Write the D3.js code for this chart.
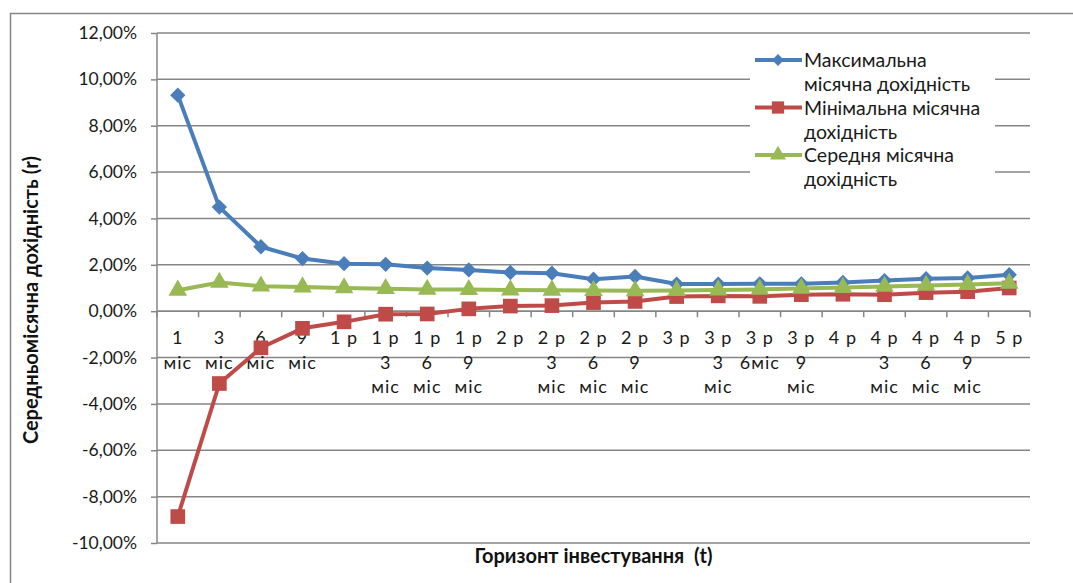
<!DOCTYPE html>
<html>
<head>
<meta charset="utf-8">
<script src="https://cdn.jsdelivr.net/npm/d3@7"></script>
<style>
  html, body { margin: 0; padding: 0; background: #fff; }
  svg { display: block; font-family: Lato, "Open Sans", sans-serif; }
</style>
</head>
<body>
<svg id="chart" width="1073" height="583"></svg>
<script>
// ---- data ----
const categories = [
  ["1", "міс"], ["3", "міс"], ["6", "міс"], ["9", "міс"],
  ["1 р"], ["1 р", "3", "міс"], ["1 р", "6", "міс"], ["1 р", "9", "міс"],
  ["2 р"], ["2 р", "3", "міс"], ["2 р", "6", "міс"], ["2 р", "9", "міс"],
  ["3 р"], ["3 р", "3", "міс"], ["3 р", "6міс"], ["3 р", "9", "міс"],
  ["4 р"], ["4 р", "3", "міс"], ["4 р", "6", "міс"], ["4 р", "9", "міс"],
  ["5 р"]
];
const maxValues = [9.32, 4.49, 2.78, 2.27, 2.05, 2.02, 1.86, 1.78, 1.67, 1.64, 1.38, 1.50, 1.17, 1.17, 1.18, 1.18, 1.24, 1.32, 1.40, 1.43, 1.57];
const minValues = [-8.86, -3.12, -1.58, -0.74, -0.46, -0.13, -0.12, 0.10, 0.22, 0.24, 0.37, 0.42, 0.63, 0.66, 0.64, 0.71, 0.73, 0.71, 0.80, 0.84, 1.00];
const avgValues = [0.90, 1.24, 1.08, 1.04, 1.00, 0.97, 0.94, 0.93, 0.91, 0.90, 0.89, 0.88, 0.89, 0.91, 0.94, 0.98, 1.02, 1.07, 1.11, 1.15, 1.20];
const yTicks = [-10, -8, -6, -4, -2, 0, 2, 4, 6, 8, 10, 12];
const seriesNames = [
  ["Максимальна", "місячна дохідність"],
  ["Мінімальна місячна", "дохідність"],
  ["Середня місячна", "дохідність"]
];
const yTitle = "Середньомісячна дохідність (r)";
const xTitle = "Горизонт інвестування  (t)";

// ---- setup ----
const svg = d3.select("#chart");
const pLeft = 157, pRight = 1030, pTop = 33, pBottom = 543;
const gridColor = "#868686";
const textColor = "#1a1a1a";

const locale = d3.formatLocale({decimal: ",", thousands: " ", grouping: [3], currency: ["", ""], minus: "-", percent: "%"});
const fmt = locale.format(".2%");

const x = d3.scaleBand().domain(d3.range(categories.length)).range([pLeft, pRight]);
const y = d3.scaleLinear().domain([-10, 12]).range([pBottom, pTop]);

// outer frame
svg.append("rect").attr("x", 10.5).attr("y", 13.5).attr("width", 1100).attr("height", 600)
  .attr("fill", "#fff").attr("stroke", gridColor).attr("stroke-width", 1.5);

// y axis
const yAxis = d3.axisLeft(y).tickValues(yTicks).tickSize(6).tickPadding(14).tickFormat(d => fmt(d / 100));
const gy = svg.append("g").attr("transform", `translate(${pLeft},0)`).call(yAxis);
gy.select(".domain").attr("stroke", gridColor).attr("stroke-width", 1.5).attr("d", `M0,${pTop}V${pBottom}`);
gy.selectAll(".tick line").attr("stroke", gridColor).attr("stroke-width", 1.5);
gy.selectAll(".tick text").attr("font-size", 17.5).attr("fill", textColor).attr("font-family", "Lato, sans-serif");

// gridlines
svg.append("g").selectAll("line").data(yTicks).join("line")
  .attr("x1", pLeft).attr("x2", pRight)
  .attr("y1", d => y(d)).attr("y2", d => y(d))
  .attr("stroke", gridColor).attr("stroke-width", 1.5);

// x axis at 0
const y0 = y(0);
const gx = svg.append("g").attr("transform", `translate(0,${y0})`);
gx.append("line").attr("x1", pLeft).attr("x2", pRight).attr("stroke", gridColor).attr("stroke-width", 1.5);
const bounds = d3.range(categories.length + 1).map(i => pLeft + i * x.step());
gx.selectAll("line.tk").data(bounds).join("line").attr("class", "tk")
  .attr("x1", d => d).attr("x2", d => d).attr("y1", 0).attr("y2", 6)
  .attr("stroke", gridColor).attr("stroke-width", 1.5);
const lbl = gx.selectAll("text.cat").data(categories).join("text").attr("class", "cat")
  .attr("text-anchor", "middle").attr("font-size", 18).attr("fill", textColor)
  .attr("letter-spacing", 1);
lbl.selectAll("tspan").data((d, i) => d.map(t => ({t, i}))).join("tspan")
  .attr("x", d => x(d.i) + x.bandwidth() / 2)
  .attr("y", (d, j) => 33 + j * 24.5)
  .text(d => d.t);

// series
const colors = ["#4A7EBB", "#BE4B48", "#98B954"];
const seriesVals = [maxValues, minValues, avgValues];
const line = d3.line().x((d, i) => x(i) + x.bandwidth() / 2).y(d => y(d));
const symbolsFill = [
  d3.symbol().type(d3.symbolDiamond2).size(150),
  d3.symbol().type(d3.symbolSquare).size(215),
  d3.symbol().type(d3.symbolTriangle).size(150)
];
seriesVals.forEach((vals, s) => {
  const g = svg.append("g");
  g.append("path").datum(vals).attr("d", line).attr("fill", "none")
    .attr("stroke", colors[s]).attr("stroke-width", 4).attr("stroke-linejoin", "round");
  g.selectAll("path.m").data(vals).join("path").attr("class", "m")
    .attr("transform", (d, i) => `translate(${x(i) + x.bandwidth() / 2},${y(d)})`)
    .attr("d", symbolsFill[s]()).attr("fill", colors[s]);
});

// legend
const legendSymbols = [
  d3.symbol().type(d3.symbolDiamond2).size(90),
  d3.symbol().type(d3.symbolSquare).size(150),
  d3.symbol().type(d3.symbolTriangle).size(110)
];
const lg = svg.append("g");
lg.append("rect").attr("x", 750).attr("y", 40).attr("width", 245).attr("height", 155).attr("fill", "#fff");
seriesNames.forEach((lines, s) => {
  const cy = 60 + s * 47.5;
  lg.append("line").attr("x1", 755).attr("x2", 802).attr("y1", cy).attr("y2", cy)
    .attr("stroke", colors[s]).attr("stroke-width", 4);
  lg.append("path").attr("transform", `translate(778,${cy})`).attr("d", legendSymbols[s]()).attr("fill", colors[s]);
  const t = lg.append("text").attr("font-size", 19.5).attr("fill", textColor);
  lines.forEach((l, j) => t.append("tspan").attr("x", 804).attr("y", cy + 7 + j * 24).text(l));
});

// axis titles
svg.append("text").attr("transform", `translate(38,${(pTop + pBottom) / 2 + 12}) rotate(-90)`)
  .attr("text-anchor", "middle").attr("font-size", 20).attr("font-weight", "bold").attr("fill", "#111")
  .text(yTitle);
svg.append("text").attr("x", (pLeft + pRight) / 2).attr("y", 563)
  .attr("text-anchor", "middle").attr("font-size", 20).attr("font-weight", "bold").attr("fill", "#111")
  .style("white-space", "pre")
  .text(xTitle);
</script>
</body>
</html>
